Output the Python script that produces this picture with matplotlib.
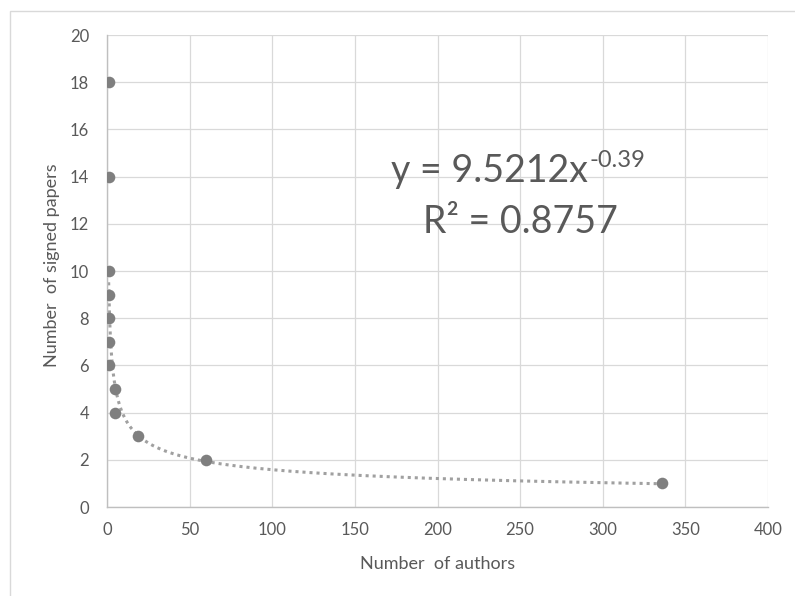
import numpy as np
import matplotlib
matplotlib.use("Agg")
import matplotlib.pyplot as plt
from matplotlib.patches import Rectangle
from matplotlib.transforms import Affine2D

plt.rcParams['font.family'] = ['Lato', 'DejaVu Sans']

# Data
authors = [1, 1, 1, 1, 1, 1, 1, 5, 5, 19, 60, 336]
papers = [18, 14, 10, 9, 8, 7, 6, 5, 4, 3, 2, 1]
coef = 9.5212
expo = -0.39
eq_main = "y = 9.5212x"
eq_sup = "-0.39"
r2_text = "R² = 0.8757"
xticks = [0, 50, 100, 150, 200, 250, 300, 350, 400]
yticks = [0, 2, 4, 6, 8, 10, 12, 14, 16, 18, 20]

W, H = 795, 596
fig = plt.figure(figsize=(W / 100, H / 100), dpi=100)
ax = fig.add_axes([107 / W, 1 - 507 / H, (768 - 107) / W, (507 - 35) / H])

# pixel transform (origin top-left)
pix = Affine2D().scale(1 / W, -1 / H).translate(0, 1) + fig.transFigure

# outer chart border
fig.patches.append(Rectangle((10 / W, -0.1), 1.1, 1 - 11 / H + 0.1, transform=fig.transFigure,
                             fill=False, edgecolor='#d9d9d9', linewidth=1.0))

grid_c = '#d9d9d9'
ax.set_xlim(0, 400)
ax.set_ylim(0, 20)
ax.set_xticks(xticks)
ax.set_yticks(yticks)
ax.grid(True, color=grid_c, linewidth=0.9)
ax.set_axisbelow(True)
for s in ['top', 'right']:
    ax.spines[s].set_visible(False)
for s in ['left', 'bottom']:
    ax.spines[s].set_color('#bfbfbf')
    ax.spines[s].set_linewidth(1.0)
ax.tick_params(length=0, colors='#595959', labelsize=12)
ax.tick_params(axis='y', pad=13)
ax.tick_params(axis='x', pad=11)

# trendline
xs = np.linspace(min(authors), max(authors), 600)
ax.plot(xs, coef * xs ** expo, linestyle=(0, (1, 1.3)), color='#a0a0a0', linewidth=2.2, zorder=2)

ax.scatter(authors, papers, s=70, color='#7f7f7f', zorder=3, linewidths=0)

t_main = fig.text(391, 182, eq_main, transform=pix, ha='left', va='baseline',
                  fontsize=27, color='#595959')
fig.text(423, 233, r2_text, transform=pix, ha='left', va='baseline',
         fontsize=27, color='#595959')

fig.text(438, 564, "Number  of authors", transform=pix, ha='center', va='center',
         fontsize=13, color='#595959')
fig.text(52, 265, "Number  of signed papers", transform=pix, ha='center', va='center',
         rotation=90, fontsize=13, color='#595959')

fig.canvas.draw()
bb = t_main.get_window_extent()
fig.text(bb.x1 + 2, 167, eq_sup, transform=pix, ha='left', va='baseline',
         fontsize=17, color='#595959')

fig.savefig("out.png", dpi=100)
